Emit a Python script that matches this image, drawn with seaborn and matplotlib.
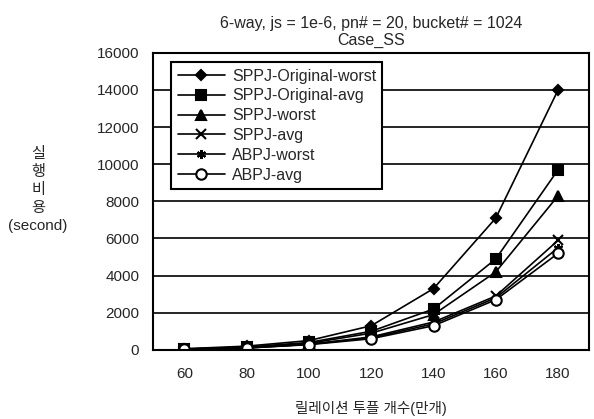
import seaborn as sns
import matplotlib.pyplot as plt

# tuple counts (x 10,000)
sizes = [60, 80, 100, 120, 140, 160, 180]

# execution cost in seconds
sppj_orig_worst = [60, 200, 500, 1300, 3300, 7100, 14000]
sppj_orig_avg = [50, 150, 400, 1000, 2200, 4900, 9700]
sppj_worst = [40, 130, 350, 900, 1900, 4200, 8300]
sppj_avg = [30, 110, 300, 700, 1500, 2900, 5900]
abpj_worst = [30, 100, 300, 650, 1400, 2800, 5500]
abpj_avg = [30, 100, 280, 600, 1300, 2700, 5200]

series = {
    "SPPJ-Original-worst": sppj_orig_worst,
    "SPPJ-Original-avg": sppj_orig_avg,
    "SPPJ-worst": sppj_worst,
    "SPPJ-avg": sppj_avg,
    "ABPJ-worst": abpj_worst,
    "ABPJ-avg": abpj_avg,
}

markers = {
    "SPPJ-Original-worst": "D",
    "SPPJ-Original-avg": "s",
    "SPPJ-worst": "^",
    "SPPJ-avg": "x",
    "ABPJ-worst": (6, 2, 0),
    "ABPJ-avg": "o",
}

sns.set_style("white")
plt.rcParams["font.family"] = ["Liberation Sans", "Noto Sans CJK KR"]

fig = plt.figure(figsize=(5.94, 4.19), dpi=100)
ax = fig.add_axes([0.258, 0.165, 0.734, 0.709])

for name, vals in series.items():
    m = markers[name]
    kw = dict(markersize=6.5, markeredgecolor="black", markeredgewidth=1.5)
    if m == "o":
        kw["markerfacecolor"] = "white"
        kw["markersize"] = 7.5
    if m == "D":
        kw["markersize"] = 5.5
    sns.lineplot(x=sizes, y=vals, ax=ax, color="black", marker=m,
                 linewidth=1.2, label=name, **kw)

ax.set_xlim(50, 190)
ax.set_ylim(0, 16000)
ax.set_xticks(sizes)
ax.set_yticks(range(0, 16001, 2000))
ax.yaxis.grid(True, color="black", linewidth=1.2)
ax.set_axisbelow(True)
ax.tick_params(labelsize=11, length=0)
ax.tick_params(axis="x", pad=12)
ax.tick_params(axis="y", pad=10)
for sp in ax.spines.values():
    sp.set_color("black")
    sp.set_linewidth(1.5)

ax.set_xlabel("릴레이션 투플 개수(만개)", fontsize=10.5, labelpad=15)
ax.set_ylabel("")
ax.set_title("6-way, js = 1e-6, pn# = 20, bucket# = 1024\nCase_SS", fontsize=11.5,
             linespacing=1.1, pad=6)
fig.text(0.064, 0.547, "실\n행\n비\n용\n(second)", ha="center", va="center",
         fontsize=11, linespacing=1.35)

leg = ax.legend(loc="upper left", bbox_to_anchor=(0.041, 0.968), fontsize=11.5,
                frameon=True, fancybox=False, edgecolor="black",
                handlelength=3.0, handletextpad=0.4, labelspacing=0.3,
                borderpad=0.4, borderaxespad=0)
leg.get_frame().set_linewidth(1.5)
leg.get_frame().set_alpha(1)

fig.savefig("out.png", dpi=100)
